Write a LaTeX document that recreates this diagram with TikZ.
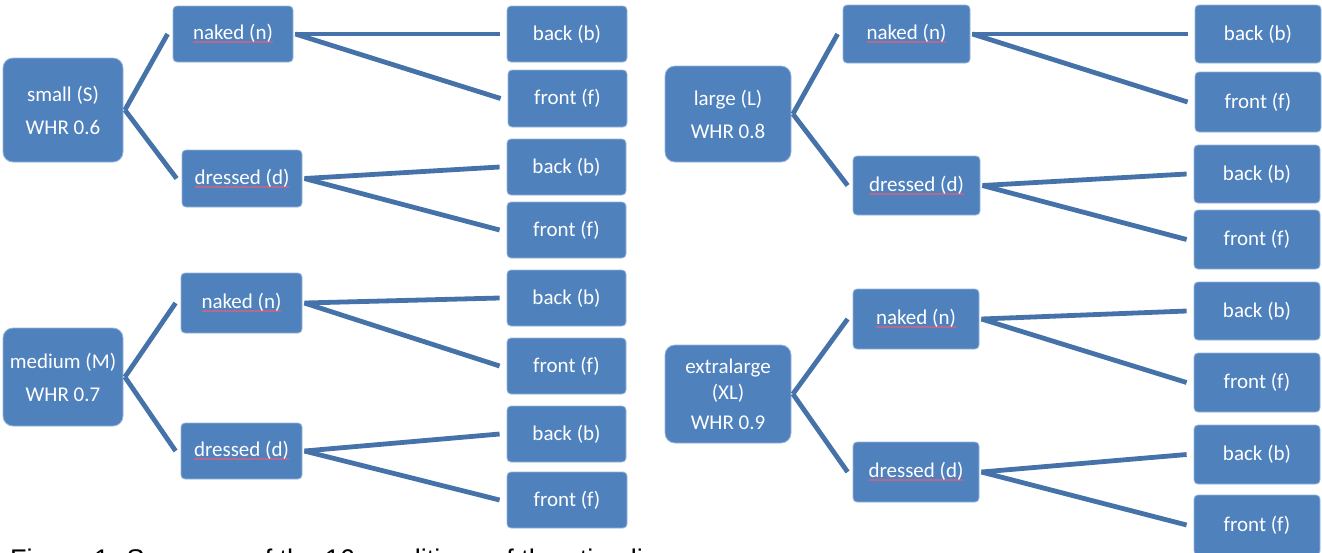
\documentclass[tikz,border=0pt]{standalone}
\usepackage{fontspec}
\setmainfont{Carlito}
\newfontfamily\capfont{Liberation Sans}
\definecolor{boxblue}{RGB}{79,129,189}
\definecolor{boxedge}{RGB}{150,180,220}
\definecolor{linkblue}{RGB}{70,114,170}
\definecolor{squigred}{RGB}{180,105,145}
\newlength\sqlen
\newcommand\squig[1]{\settowidth\sqlen{#1}\rlap{\color{squigred}\rule[-3.5pt]{\sqlen}{2pt}}#1}
\begin{document}
\begin{tikzpicture}[x=1pt,y=-1pt,
  box/.style={fill=boxblue, draw=boxedge, line width=0.8pt, text=white, inner sep=0pt,
    align=center, font=\fontsize{21}{26}\selectfont},
  leaf/.style={box, rounded corners=4pt},
  root/.style={box, rounded corners=10pt},
  sz/.style 2 args={minimum width=#1pt, minimum height=#2pt},
  conn/.style={draw=linkblue, line width=4.8pt}]
\useasboundingbox (0,0) rectangle (1322,552);
\clip (0,0) rectangle (1322,552);

% ---------- left half ----------
\node[root, sz={120}{104}] (S) at (63,110) {small (S)\\[7pt]WHR 0.6};
\node[leaf, sz={120}{56}] (n1) at (233,34) {\squig{naked (n)}};
\node[leaf, sz={120}{57}] (d1) at (242,178.5) {\squig{dressed (d)}};
\node[leaf, sz={120}{56}] (b1) at (567,34) {back (b)};
\node[leaf, sz={119}{57}] (f1) at (567.5,98.5) {front (f)};
\node[leaf, sz={119}{56}] (b2) at (566.5,167) {back (b)};
\node[leaf, sz={119}{56}] (f2) at (566.5,230) {front (f)};

\node[root, sz={120}{98}] (M) at (63,377) {medium (M)\\[7pt]WHR 0.7};
\node[leaf, sz={121}{60}] (n2) at (241.5,303) {\squig{naked (n)}};
\node[leaf, sz={121}{56}] (d2) at (241.5,451) {\squig{dressed (d)}};
\node[leaf, sz={119}{56}] (b3) at (566.5,298) {back (b)};
\node[leaf, sz={119}{56}] (f3) at (566.5,366) {front (f)};
\node[leaf, sz={119}{56}] (b4) at (566.5,434) {back (b)};
\node[leaf, sz={120}{56}] (f4) at (567,500) {front (f)};

% ---------- right half ----------
\node[root, sz={126}{96}] (L) at (728,114) {large (L)\\[7pt]WHR 0.8};
\node[leaf, sz={127}{58}] (n3) at (906.5,34) {\squig{naked (n)}};
\node[leaf, sz={127}{59}] (d3) at (916.5,185.5) {\squig{dressed (d)}};
\node[leaf, sz={126}{58}] (b5) at (1258,34) {back (b)};
\node[leaf, sz={126}{60}] (f5) at (1258,102) {front (f)};
\node[leaf, sz={126}{58}] (b6) at (1257,174) {back (b)};
\node[leaf, sz={126}{59}] (f6) at (1257,239.5) {front (f)};

\node[root, sz={126}{98}] (XL) at (728,394) {extralarge\\(XL)\\[4pt]WHR 0.9};
\node[leaf, sz={126}{60}] (n4) at (916,319) {\squig{naked (n)}};
\node[leaf, sz={126}{60}] (d4) at (916,472) {\squig{dressed (d)}};
\node[leaf, sz={126}{58}] (b7) at (1257,311) {back (b)};
\node[leaf, sz={126}{59}] (f7) at (1257,382.5) {front (f)};
\node[leaf, sz={126}{59}] (b8) at (1257,454.5) {back (b)};
\node[leaf, sz={126}{60}] (f8) at (1257,525) {front (f)};

% ---------- connectors ----------
\foreach \r/\a/\b in {S/n1/d1, M/n2/d2, L/n3/d3, XL/n4/d4}{
  \draw[conn] ([xshift=1.5pt]\r.east) -- ([xshift=-5pt]\a.west);
  \draw[conn] ([xshift=1.5pt]\r.east) -- ([xshift=-5pt]\b.west);
}
\foreach \m/\a/\b in {n1/b1/f1, d1/b2/f2, n2/b3/f3, d2/b4/f4, n3/b5/f5, d3/b6/f6, n4/b7/f7, d4/b8/f8}{
  \draw[conn] ([xshift=2pt]\m.east) -- ([xshift=-7pt]\a.west);
  \draw[conn] ([xshift=2pt]\m.east) -- ([xshift=-7pt]\b.west);
}

% ---------- caption (cut off at the bottom edge, as in the reference) ----------
\node[anchor=base west, inner sep=0pt, font=\capfont\fontsize{27}{32}\selectfont] (cap) at (10,568)
  {Figure 1: Summary of the 16 conditions of the stimuli};
\end{tikzpicture}
\end{document}
